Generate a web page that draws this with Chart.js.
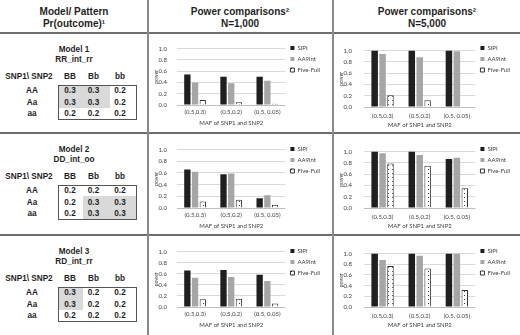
<!DOCTYPE html>
<html><head><meta charset="utf-8">
<script src="https://cdn.jsdelivr.net/npm/chart.js@4.4.1/dist/chart.umd.min.js"></script>
<style>
html,body{margin:0;padding:0;background:#fff;}
#wrap{position:relative;width:520px;height:335px;overflow:hidden;font-family:"Liberation Sans",Arial,sans-serif;color:#1f1f1f;}
.t{position:absolute;white-space:nowrap;transform:translate(-50%,-50%);font-weight:bold;line-height:1;}
.h{font-size:10px}
.m{font-size:8.2px}
.hl{position:absolute;left:0;width:520px;height:1.5px;background:#6e6e6e}
.vl{position:absolute;top:0;height:335px;width:2px;background:#8a8a8a}
.box{position:absolute;border:1px solid #555;box-sizing:border-box}
.sh{position:absolute;background:#d9d9d9}
canvas{position:absolute}
</style></head><body><div id="wrap"></div>
<script>
// ---- data ----
const categories = ["(0.5,0.3)", "(0.5,0.2)", "(0.5, 0.05)"];
const seriesNames = ["SIPI", "AA9int", "Five-Full"];
const yTickValues = [0, 0.2, 0.4, 0.6, 0.8, 1.0];
const yTickLabels = ["0.0", "0.2", "0.4", "0.6", "0.8", "1.0"];
const xAxisTitle = "MAF of SNP1 and SNP2";
const yAxisTitle = "power";

const sipi_m1_n1000 = [0.54, 0.50, 0.50];
const aa9_m1_n1000  = [0.40, 0.385, 0.43];
const ff_m1_n1000   = [0.09, 0.05, 0.02];
const sipi_m1_n5000 = [1.00, 1.00, 1.00];
const aa9_m1_n5000  = [0.94, 0.88, 0.99];
const ff_m1_n5000   = [0.21, 0.12, 0.01];

const sipi_m2_n1000 = [0.66, 0.58, 0.165];
const aa9_m2_n1000  = [0.62, 0.59, 0.22];
const ff_m2_n1000   = [0.11, 0.14, 0.055];
const sipi_m2_n5000 = [1.00, 1.00, 0.87];
const aa9_m2_n5000  = [0.97, 0.94, 0.89];
const ff_m2_n5000   = [0.79, 0.75, 0.35];

const sipi_m3_n1000 = [0.66, 0.67, 0.58];
const aa9_m3_n1000  = [0.53, 0.54, 0.47];
const ff_m3_n1000   = [0.14, 0.15, 0.065];
const sipi_m3_n5000 = [1.00, 1.00, 1.00];
const aa9_m3_n5000  = [0.88, 0.96, 1.00];
const ff_m3_n5000   = [0.77, 0.72, 0.32];

const modelNames = ["Model 1", "Model 2", "Model 3"];
const modelPatterns = ["RR_int_rr", "DD_int_oo", "RD_int_rr"];
const snp1Labels = ["AA", "Aa", "aa"];
const snp2Labels = ["BB", "Bb", "bb"];
const pr_m1 = [[0.3, 0.3, 0.2], [0.3, 0.3, 0.2], [0.2, 0.2, 0.2]];
const pr_m2 = [[0.2, 0.2, 0.2], [0.2, 0.3, 0.3], [0.2, 0.3, 0.3]];
const pr_m3 = [[0.3, 0.2, 0.2], [0.3, 0.2, 0.2], [0.2, 0.2, 0.2]];

// ---- table layout ----
const wrap = document.getElementById('wrap');
function el(cls, txt, x, y) {
  const d = document.createElement('div');
  d.className = cls;
  if (txt !== null) d.textContent = txt;
  d.style.left = x + 'px'; d.style.top = y + 'px';
  wrap.appendChild(d);
  return d;
}
el('t h', 'Model/ Pattern', 74, 12);
el('t h', 'Pr(outcome)\u00B9', 74, 24);
el('t h', 'Power comparisons\u00B2', 240, 12);
el('t h', 'N=1,000', 240, 24);
el('t h', 'Power comparisons\u00B2', 427, 12);
el('t h', 'N=5,000', 427, 24);
[33, 133, 235].forEach(y => el('hl', null, 0, y - 0.75));
[148, 333].forEach(x => el('vl', null, x - 1, 0));

const rowTops = [33, 133, 235];
const prs = [pr_m1, pr_m2, pr_m3];
const colEdges = [58, 83, 110, 137];
const colText = [70, 93.5, 120];
rowTops.forEach((R, mi) => {
  el('t m', modelNames[mi], 74, R + 17);
  el('t m', modelPatterns[mi], 74, R + 27);
  el('t m', 'SNP1\\ SNP2', 29, R + 44);
  snp2Labels.forEach((s, j) => el('t m', s, colText[j], R + 44));
  const bt = R + 51.5, rh = 11.7;
  prs[mi].forEach((row, i) => {
    row.forEach((v, j) => {
      if (v >= 0.3) {
        const d = el('sh', null, colEdges[j], bt + i * rh);
        d.style.width = (colEdges[j + 1] - colEdges[j]) + 'px';
        d.style.height = rh + 'px';
      }
    });
  });
  const b = el('box', null, colEdges[0], bt);
  b.style.width = (colEdges[3] - colEdges[0]) + 'px';
  b.style.height = (3 * rh) + 'px';
  prs[mi].forEach((row, i) => {
    el('t m', snp1Labels[i], 32, bt + i * rh + rh / 2 + 0.5);
    row.forEach((v, j) => el('t m', v.toFixed(1), colText[j], bt + i * rh + rh / 2 + 0.5));
  });
});

// ---- charts ----
const FONT = 'Lato';
const TXT = '#404040';
function makeChart(spec) {
  const cv = document.createElement('canvas');
  const top = spec.top - 5;
  const h = spec.bottom - spec.top + 5 + 26;
  cv.width = spec.w; cv.height = h;
  cv.style.left = spec.left + 'px'; cv.style.top = top + 'px';
  cv.style.width = spec.w + 'px'; cv.style.height = h + 'px';
  wrap.appendChild(cv);
  const pc = document.createElement('canvas'); pc.width = 4; pc.height = 4;
  const px = pc.getContext('2d');
  px.fillStyle = '#fff'; px.fillRect(0, 0, 4, 4);
  px.fillStyle = '#3a3a3a'; px.fillRect(1, 1, 1, 1);
  const pattern = cv.getContext('2d').createPattern(pc, 'repeat');
  new Chart(cv, {
    type: 'bar',
    data: {
      labels: categories,
      datasets: [
        { label: seriesNames[0], data: spec.d[0], backgroundColor: '#1f1f1f', borderWidth: 0 },
        { label: seriesNames[1], data: spec.d[1], backgroundColor: '#a6a6a6', borderWidth: 0 },
        { label: seriesNames[2], data: spec.d[2], backgroundColor: pattern, borderColor: '#333', borderWidth: 1 }
      ]
    },
    options: {
      responsive: false, animation: false, devicePixelRatio: 1,
      layout: { padding: { top: 5, right: spec.padR, left: 0, bottom: 0 } },
      datasets: { bar: { categoryPercentage: 0.64, barPercentage: 0.82 } },
      plugins: {
        legend: { position: 'right', align: 'start',
          labels: { font: { family: FONT, size: 6 }, color: TXT, boxWidth: 4, boxHeight: 4, padding: 5 } },
        tooltip: { enabled: false }
      },
      scales: {
        x: {
          grid: { display: false, drawTicks: false }, border: { display: false },
          ticks: { font: { family: FONT, size: 6 }, color: TXT, padding: spec.xp, maxRotation: 0, autoSkip: false },
          title: { display: true, text: xAxisTitle, font: { family: FONT, size: 6 }, color: TXT, padding: { top: 2, bottom: 4 } },
          afterFit(s) { s.height = 26; }
        },
        y: {
          min: 0, max: 1,
          afterBuildTicks(s) { s.ticks = yTickValues.map(v => ({ value: v })); },
          ticks: { font: { family: FONT, size: 6 }, color: TXT, padding: spec.tp,
            callback: (v, i) => yTickLabels[i] },
          grid: { color: c => (c.tick && c.tick.value === 0) ? '#bfbfbf' : '#d9d9d9', drawTicks: false, lineWidth: 1 },
          border: { display: false },
          title: { display: true, text: yAxisTitle, font: { family: FONT, size: 5 }, color: TXT, padding: { top: 3, bottom: 0 } },
          afterFit(s) { s.width = spec.yw; }
        }
      }
    }
  });
}
const mid = { left: 150, w: 183, yw: 27, padR: 3, tp: 10, xp: 3 };
const rgt = { left: 335, w: 185, yw: 29, padR: 0, tp: 12, xp: 5 };
makeChart(Object.assign({}, mid, { top: 40, bottom: 105, d: [sipi_m1_n1000, aa9_m1_n1000, ff_m1_n1000] }));
makeChart(Object.assign({}, rgt, { top: 40, bottom: 107, d: [sipi_m1_n5000, aa9_m1_n5000, ff_m1_n5000] }));
makeChart(Object.assign({}, mid, { top: 141, bottom: 208, d: [sipi_m2_n1000, aa9_m2_n1000, ff_m2_n1000] }));
makeChart(Object.assign({}, rgt, { top: 141, bottom: 208, d: [sipi_m2_n5000, aa9_m2_n5000, ff_m2_n5000] }));
makeChart(Object.assign({}, mid, { top: 243, bottom: 307, d: [sipi_m3_n1000, aa9_m3_n1000, ff_m3_n1000] }));
makeChart(Object.assign({}, rgt, { top: 243, bottom: 307, d: [sipi_m3_n5000, aa9_m3_n5000, ff_m3_n5000] }));
</script></body></html>
